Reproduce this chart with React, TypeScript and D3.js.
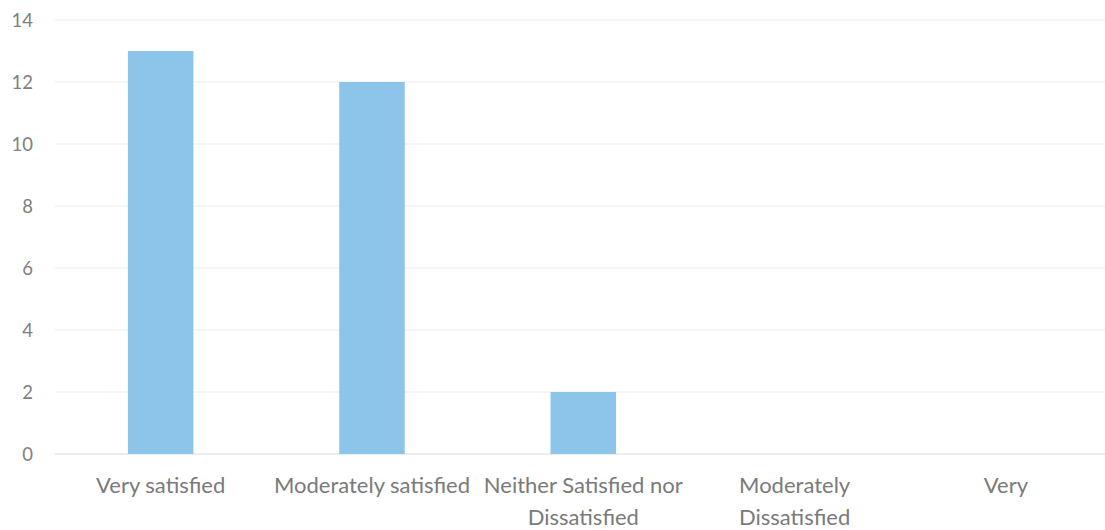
import React from "react";
import * as d3 from "d3";

const categories = [
  "Very satisfied",
  "Moderately satisfied",
  "Neither Satisfied nor Dissatisfied",
  "Moderately Dissatisfied",
  "Very",
];
const labelLines = [
  ["Very satisfied"],
  ["Moderately satisfied"],
  ["Neither Satisfied nor", "Dissatisfied"],
  ["Moderately", "Dissatisfied"],
  ["Very"],
];
const values = [13, 12, 2, 0, 0];
const yTicks = [0, 2, 4, 6, 8, 10, 12, 14];

const W = 1105;
const H = 530;
const plotLeft = 55;
const plotRight = 1111.6;
const plotTop = 20;
const plotBottom = 454;

export default function App() {
  const x = d3
    .scaleBand<string>()
    .domain(categories)
    .range([plotLeft, plotRight])
    .paddingInner(0.69)
    .paddingOuter(0.345);
  const y = d3.scaleLinear().domain([0, 14]).range([plotBottom, plotTop]);
  const font = "Lato, 'Open Sans', sans-serif";
  return (
    <svg
      width={W}
      height={H}
      style={{ position: "absolute", left: 0, top: 0, background: "#fff" }}
    >
      {yTicks.map((t) => (
        <g key={t}>
          <line
            x1={plotLeft}
            x2={W}
            y1={y(t)}
            y2={y(t)}
            stroke={t === 0 ? "#dcdcdc" : "#ececec"}
            strokeWidth={1.2}
          />
          <text
            x={33}
            y={y(t)}
            dy="0.36em"
            textAnchor="end"
            fontFamily={font}
            fontSize={18.5}
            fill="#808080"
          >
            {t}
          </text>
        </g>
      ))}
      {categories.map((c, i) => (
        <rect
          key={c}
          x={x(c)}
          y={y(values[i])}
          width={x.bandwidth()}
          height={y(0) - y(values[i])}
          fill="#8cc4ea"
        />
      ))}
      {categories.map((c, i) => (
        <text
          key={c}
          x={(x(c) as number) + x.bandwidth() / 2}
          y={493}
          textAnchor="middle"
          fontFamily={font}
          fontSize={22}
          fill="#7a7a7a"
        >
          {labelLines[i].map((l, j) => (
            <tspan key={j} x={(x(c) as number) + x.bandwidth() / 2} dy={j === 0 ? 0 : 32}>
              {l}
            </tspan>
          ))}
        </text>
      ))}
    </svg>
  );
}
